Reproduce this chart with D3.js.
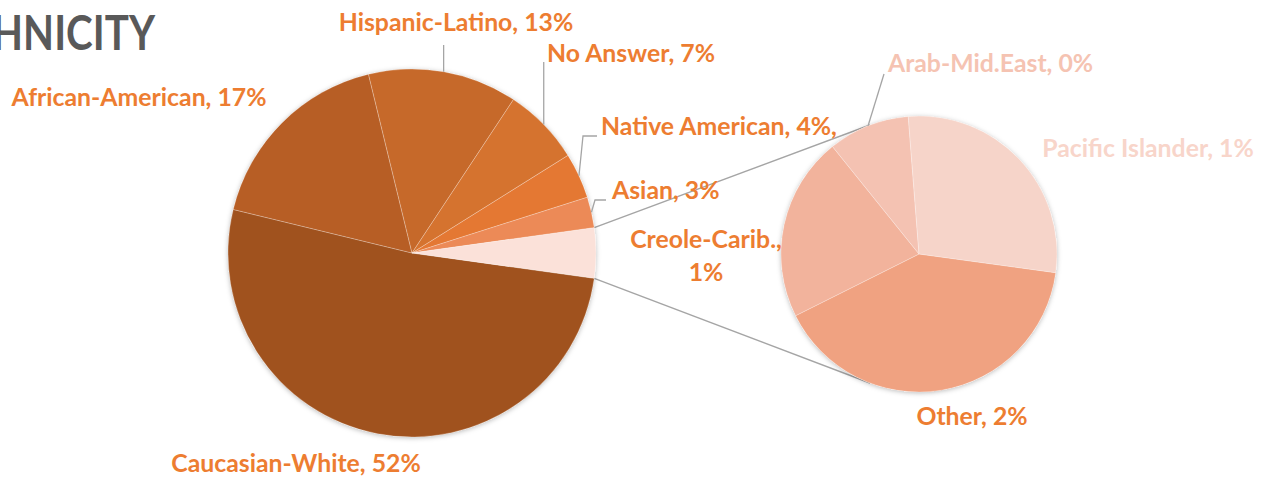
<!DOCTYPE html>
<html><head><meta charset="utf-8">
<script src="https://cdn.jsdelivr.net/npm/d3@7"></script>
<style>
body{margin:0;background:#fff;overflow:hidden}
svg{display:block}
text{font-family:Lato,"Open Sans",sans-serif;font-weight:700}
</style>
</head><body>
<svg id="c" width="1265" height="479"></svg>
<script>
// ---- data ----
const mainCategories = ["Caucasian-White","African-American","Hispanic-Latino","No Answer","Native American","Asian"];
const mainValues     = [51.6, 17.4, 13.1, 6.8, 4.0, 2.7];
const mainColors     = ["#a0521e","#b75e25","#c6692a","#d5732f","#e47833","#ec8a57"];
const groupColor     = "#fbe1d9";
const subCategories  = ["Other","Creole-Carib.","Arab-Mid.East","Pacific Islander"];
const subValues      = [1.78, 0.95, 0.42, 1.25];
const subColors      = ["#f0a281","#f2b39c","#f4c2b2","#f6d4c9"];
const titleText      = "ETHNICITY";

// ---- layout ----
const main = {cx: 412, cy: 253, r: 184};
const sub  = {cx: 919, cy: 254, r: 138, startDeg: 97.8, connDeg: 20.8};
const labelOrange = "#ed7d31";
const deg = Math.PI/180;

const svg = d3.select("#c");
const defs = svg.append("defs");
const f = defs.append("filter").attr("id","sh").attr("x","-10%").attr("y","-10%").attr("width","120%").attr("height","120%");
f.append("feDropShadow").attr("dx",0).attr("dy",1).attr("stdDeviation",2.5).attr("flood-color","#000").attr("flood-opacity",0.28);

const groupTotal = d3.sum(subValues);
const mainData = mainCategories.map((c,i)=>({name:c, value:mainValues[i], color:mainColors[i]}))
  .concat([{name:"__group", value:groupTotal, color:groupColor}]);
const total = d3.sum(mainData, d=>d.value);
const groupAngle = groupTotal/total*2*Math.PI;
const mainStart = Math.PI/2 + groupAngle/2;

const pieMain = d3.pie().sort(null).value(d=>d.value).startAngle(mainStart).endAngle(mainStart+2*Math.PI);
const arcsMain = pieMain(mainData);
const arcMain = d3.arc().innerRadius(0).outerRadius(main.r);

const subData = subCategories.map((c,i)=>({name:c, value:subValues[i], color:subColors[i]}));
const subStart = sub.startDeg*deg;
const pieSub = d3.pie().sort(null).value(d=>d.value).startAngle(subStart).endAngle(subStart+2*Math.PI);
const arcsSub = pieSub(subData);
const arcSub = d3.arc().innerRadius(0).outerRadius(sub.r);

const pt = (c, r, a) => [c.cx + r*Math.sin(a), c.cy - r*Math.cos(a)];

// connector lines (top edge of group slice -> top of secondary pie, bottom -> bottom)
const g = arcsMain[arcsMain.length-1];
const conn = [
  [pt(main, main.r, g.startAngle), pt(sub, sub.r, -sub.connDeg*deg)],
  [pt(main, main.r, g.endAngle), pt(sub, sub.r, Math.PI + sub.connDeg*deg)]
];
svg.append("g").selectAll("line").data(conn).join("line")
  .attr("x1",d=>d[0][0]).attr("y1",d=>d[0][1]).attr("x2",d=>d[1][0]).attr("y2",d=>d[1][1])
  .attr("stroke","#a5a5a5").attr("stroke-width",1.4);

// pies
const gm = svg.append("g").attr("transform",`translate(${main.cx},${main.cy})`);
gm.append("circle").attr("r",main.r).attr("fill","#fff").attr("filter","url(#sh)");
gm.selectAll("path").data(arcsMain).join("path").attr("d",arcMain)
  .attr("fill",d=>d.data.color).attr("stroke","rgba(255,255,255,0.35)").attr("stroke-width",0.7);

const gs = svg.append("g").attr("transform",`translate(${sub.cx},${sub.cy})`);
gs.append("circle").attr("r",sub.r).attr("fill","#fff").attr("filter","url(#sh)");
gs.selectAll("path").data(arcsSub).join("path").attr("d",arcSub)
  .attr("fill",d=>d.data.color).attr("stroke","rgba(255,255,255,0.35)").attr("stroke-width",0.7);

// labels
const pct = v => Math.round(v) + "%";
const labelLayout = {
  "Caucasian-White": {x:296, y:472, anchor:"middle"},
  "African-American": {x:139, y:106, anchor:"middle"},
  "Hispanic-Latino": {x:456, y:31, anchor:"middle", leader:[[null,45]]},
  "No Answer": {x:547, y:62, anchor:"start", leader:[[null,62]]},
  "Native American": {x:601, y:135, anchor:"start", suffix:",", leader:[[583,136],[597,136]]},
  "Asian": {x:612, y:199, anchor:"start", leader:[[595,200],[606,200]]},
  "Other": {x:972, y:425, anchor:"middle"},
  "Creole-Carib.": {x:706, y:248, anchor:"middle", wrap:true},
  "Arab-Mid.East": {x:888, y:72, anchor:"start", color:"#f5c3b2", leader:[[884,74]]},
  "Pacific Islander": {x:1148, y:157, anchor:"middle", color:"#f8d5ca"}
};

const lab = svg.append("g").attr("font-size",24.8);
const leaders = svg.append("g").attr("fill","none").attr("stroke","#a5a5a5").attr("stroke-width",1.3);

function addLabel(d, center, r) {
  const L = labelLayout[d.data.name];
  if (!L) return;
  const txt = d.data.name + ", " + pct(d.data.value) + (L.suffix||"");
  const t = lab.append("text").attr("x",L.x).attr("y",L.y).attr("text-anchor",L.anchor)
    .attr("fill", L.color || labelOrange);
  if (L.wrap) {
    t.append("tspan").attr("x",L.x).text(d.data.name + ",");
    t.append("tspan").attr("x",L.x).attr("dy",33).text(pct(d.data.value));
  } else t.text(txt);
  if (L.leader) {
    const mid = (d.startAngle + d.endAngle)/2;
    const p0 = pt(center, r, mid);
    const pts = [p0].concat(L.leader.map(q=>[q[0]==null ? p0[0] : q[0], q[1]]));
    leaders.append("path").attr("d", d3.line()(pts));
  }
}
arcsMain.forEach(d=>addLabel(d, main, main.r));
arcsSub.forEach(d=>addLabel(d, sub, sub.r));

// title (cut at the left edge, as in the original)
svg.append("text").attr("transform","translate(155,50) scale(0.84,1)").attr("text-anchor","end")
  .attr("font-size",48).attr("fill","#595959").text(titleText);
</script>
</body></html>
